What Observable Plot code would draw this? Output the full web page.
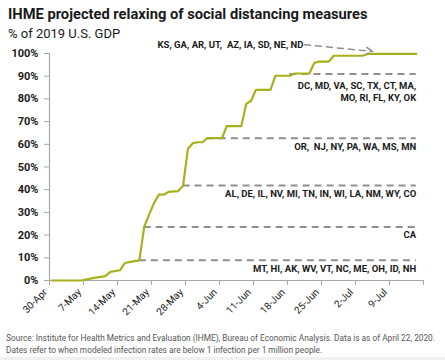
<!DOCTYPE html>
<html>
<head>
<meta charset="utf-8">
<script src="https://cdn.jsdelivr.net/npm/d3@7"></script>
<script src="https://cdn.jsdelivr.net/npm/@observablehq/plot@0.6"></script>
<style>
  html, body { margin: 0; padding: 0; background: #fff; }
  #wrap { position: relative; width: 445px; height: 360px; overflow: hidden; font-family: Roboto, "Open Sans", sans-serif; color: #1a1a1a; }
  #title { position: absolute; left: 8px; top: 4px; font-size: 14.7px; font-weight: bold; line-height: 20px; white-space: nowrap; }
  #subtitle { position: absolute; left: 8px; top: 25px; font-size: 13px; line-height: 18px; white-space: nowrap; }
  #chart { position: absolute; left: 0; top: 38px; }
  #source { position: absolute; left: 6px; top: 333px; font-size: 8.3px; line-height: 11.5px; color: #555; white-space: nowrap; }
  #band { position: absolute; left: 0; top: 357px; width: 445px; height: 3px; background: #f0f0f0; }
</style>
</head>
<body>
<div id="wrap">
  <div id="title">IHME projected relaxing of social distancing measures</div>
  <div id="subtitle">% of 2019 U.S. GDP</div>
  <div id="chart"></div>
  <div id="source">Source: Institute for Health Metrics and Evaluation (IHME), Bureau of Economic Analysis. Data is as of April 22, 2020.<br>Dates refer to when modeled infection rates are below 1 infection per 1 million people.</div>
  <div id="band"></div>
</div>
<script>
// ---- data ----
const lineDates = ["2020-04-30","2020-05-06","2020-05-09","2020-05-11","2020-05-12","2020-05-14","2020-05-15","2020-05-17","2020-05-18","2020-05-19","2020-05-20","2020-05-21","2020-05-22","2020-05-23","2020-05-24","2020-05-26","2020-05-27","2020-05-28","2020-05-29","2020-05-30","2020-05-31","2020-06-01","2020-06-04","2020-06-05","2020-06-08","2020-06-09","2020-06-10","2020-06-11","2020-06-14","2020-06-15","2020-06-18","2020-06-19","2020-06-22","2020-06-23","2020-06-24","2020-06-26","2020-06-27","2020-07-03","2020-07-04","2020-07-14"];
const lineValues = [0,0,1.3,1.9,3.8,4.5,7.7,8.5,8.9,23.6,29,34,37.8,37.8,39,39.4,41.8,58,60.5,60.9,60.9,62.7,62.7,68,68,77.8,79.2,84,84,90.2,90.2,91.2,91.2,95.8,96.4,96.4,99,99,99.8,99.8];

const refStarts = ["2020-05-18","2020-05-19","2020-05-27","2020-06-01","2020-06-18"];
const refEnd = "2020-07-14";
const refValues = [8.9, 23.6, 41.8, 62.7, 91];
const refLabels = [
  "MT, HI, AK, WV, VT, NC, ME, OH, ID, NH",
  "CA",
  "AL, DE, IL, NV, MI, TN, IN, WI, LA, NM, WY, CO",
  "OR,  NJ, NY, PA, WA, MS, MN",
  "DC, MD, VA, SC, TX, CT, MA,\nMO, RI, FL, KY, OK"
];
const arrowFrom = {date: "2020-06-21", value: 103.9};
const arrowTo = {date: "2020-07-05", value: 100.9};
const arrowLabel = "KS, GA, AR, UT,  AZ, IA, SD, NE, ND";

const tickDates = ["2020-04-30","2020-05-07","2020-05-14","2020-05-21","2020-05-28","2020-06-04","2020-06-11","2020-06-18","2020-06-25","2020-07-02","2020-07-09","2020-07-16"];
const tickLabels = ["30-Apr","7-May","14-May","21-May","28-May","4-Jun","11-Jun","18-Jun","25-Jun","2-Jul","9-Jul",""];
const yTicks = [0,10,20,30,40,50,60,70,80,90,100];

// ---- build ----
const HALF = 12 * 3600 * 1000;
const mid = s => new Date(new Date(s).getTime() + HALF); // points sit mid-day (category centre)
const series = lineDates.map((d, i) => ({date: mid(d), value: lineValues[i]}));
const refs = refValues.map((v, i) => ({x1: mid(refStarts[i]), x2: mid(refEnd), y: v, label: refLabels[i]}));
const ticks = tickDates.map(d => new Date(d));
const labelOf = new Map(ticks.map((t, i) => [+t, tickLabels[i]]));

const GRAY = "#8f8f8f";
const AXIS = "#a8a8a8";
const OLIVE = "#a9b01b";
const FONT = "Roboto, 'Open Sans', sans-serif";

const chart = Plot.plot({
  width: 445,
  height: 285,
  marginTop: 15,
  marginBottom: 43,
  marginLeft: 49,
  marginRight: 22,
  style: {fontFamily: FONT, background: "transparent", overflow: "visible"},
  x: {type: "utc", domain: [ticks[0], ticks[ticks.length - 1]]},
  y: {domain: [0, 100]},
  marks: [
    Plot.ruleY([0], {stroke: AXIS, strokeWidth: 1.2}),
    Plot.ruleX([ticks[0]], {y1: 0, y2: 100, stroke: AXIS, strokeWidth: 1.2}),
    Plot.axisY({ticks: yTicks, tickFormat: d => d + "%", tickSize: 5, tickPadding: 6, stroke: AXIS, fill: "#1a1a1a", fontSize: 11, fontWeight: "bold", label: null}),
    Plot.axisX({ticks: ticks, tickSize: 5, stroke: AXIS, tickFormat: null, text: null, label: null}),
    Plot.axisX({ticks: ticks, tickFormat: d => labelOf.get(+d), tickSize: 0, tickPadding: 10, tickRotate: -45, dx: -4, fill: "#1a1a1a", fontSize: 10, label: null}),
    Plot.ruleY(refs, {x1: "x1", x2: "x2", y: "y", stroke: GRAY, strokeWidth: 2, strokeDasharray: "7,5"}),
    Plot.line(series, {x: "date", y: "value", stroke: OLIVE, strokeWidth: 2.2}),
    Plot.text(refs.filter(r => !r.label.includes("\n")), {x: "x2", y: "y", text: "label", textAnchor: "end", dy: 8.5, fontSize: 9.5, fontWeight: "bold", fill: "#1a1a1a"}),
    Plot.text(refs.filter(r => r.label.includes("\n")), {x: "x2", y: "y", text: "label", textAnchor: "end", lineAnchor: "top", dy: 6, lineHeight: 1.3, fontSize: 9.5, fontWeight: "bold", fill: "#1a1a1a"}),
    Plot.arrow([{x1: mid(arrowFrom.date), y1: arrowFrom.value, x2: mid(arrowTo.date), y2: arrowTo.value}], {x1: "x1", y1: "y1", x2: "x2", y2: "y2", stroke: GRAY, strokeWidth: 1.5, strokeDasharray: "6,5", headLength: 7, bend: false}),
    Plot.text([{x: mid(arrowFrom.date), y: arrowFrom.value, label: arrowLabel}], {x: "x", y: "y", text: "label", textAnchor: "end", dx: -1, fontSize: 9.5, fontWeight: "bold", fill: "#1a1a1a"})
  ]
});
document.getElementById("chart").appendChild(chart);
</script>
</body>
</html>
